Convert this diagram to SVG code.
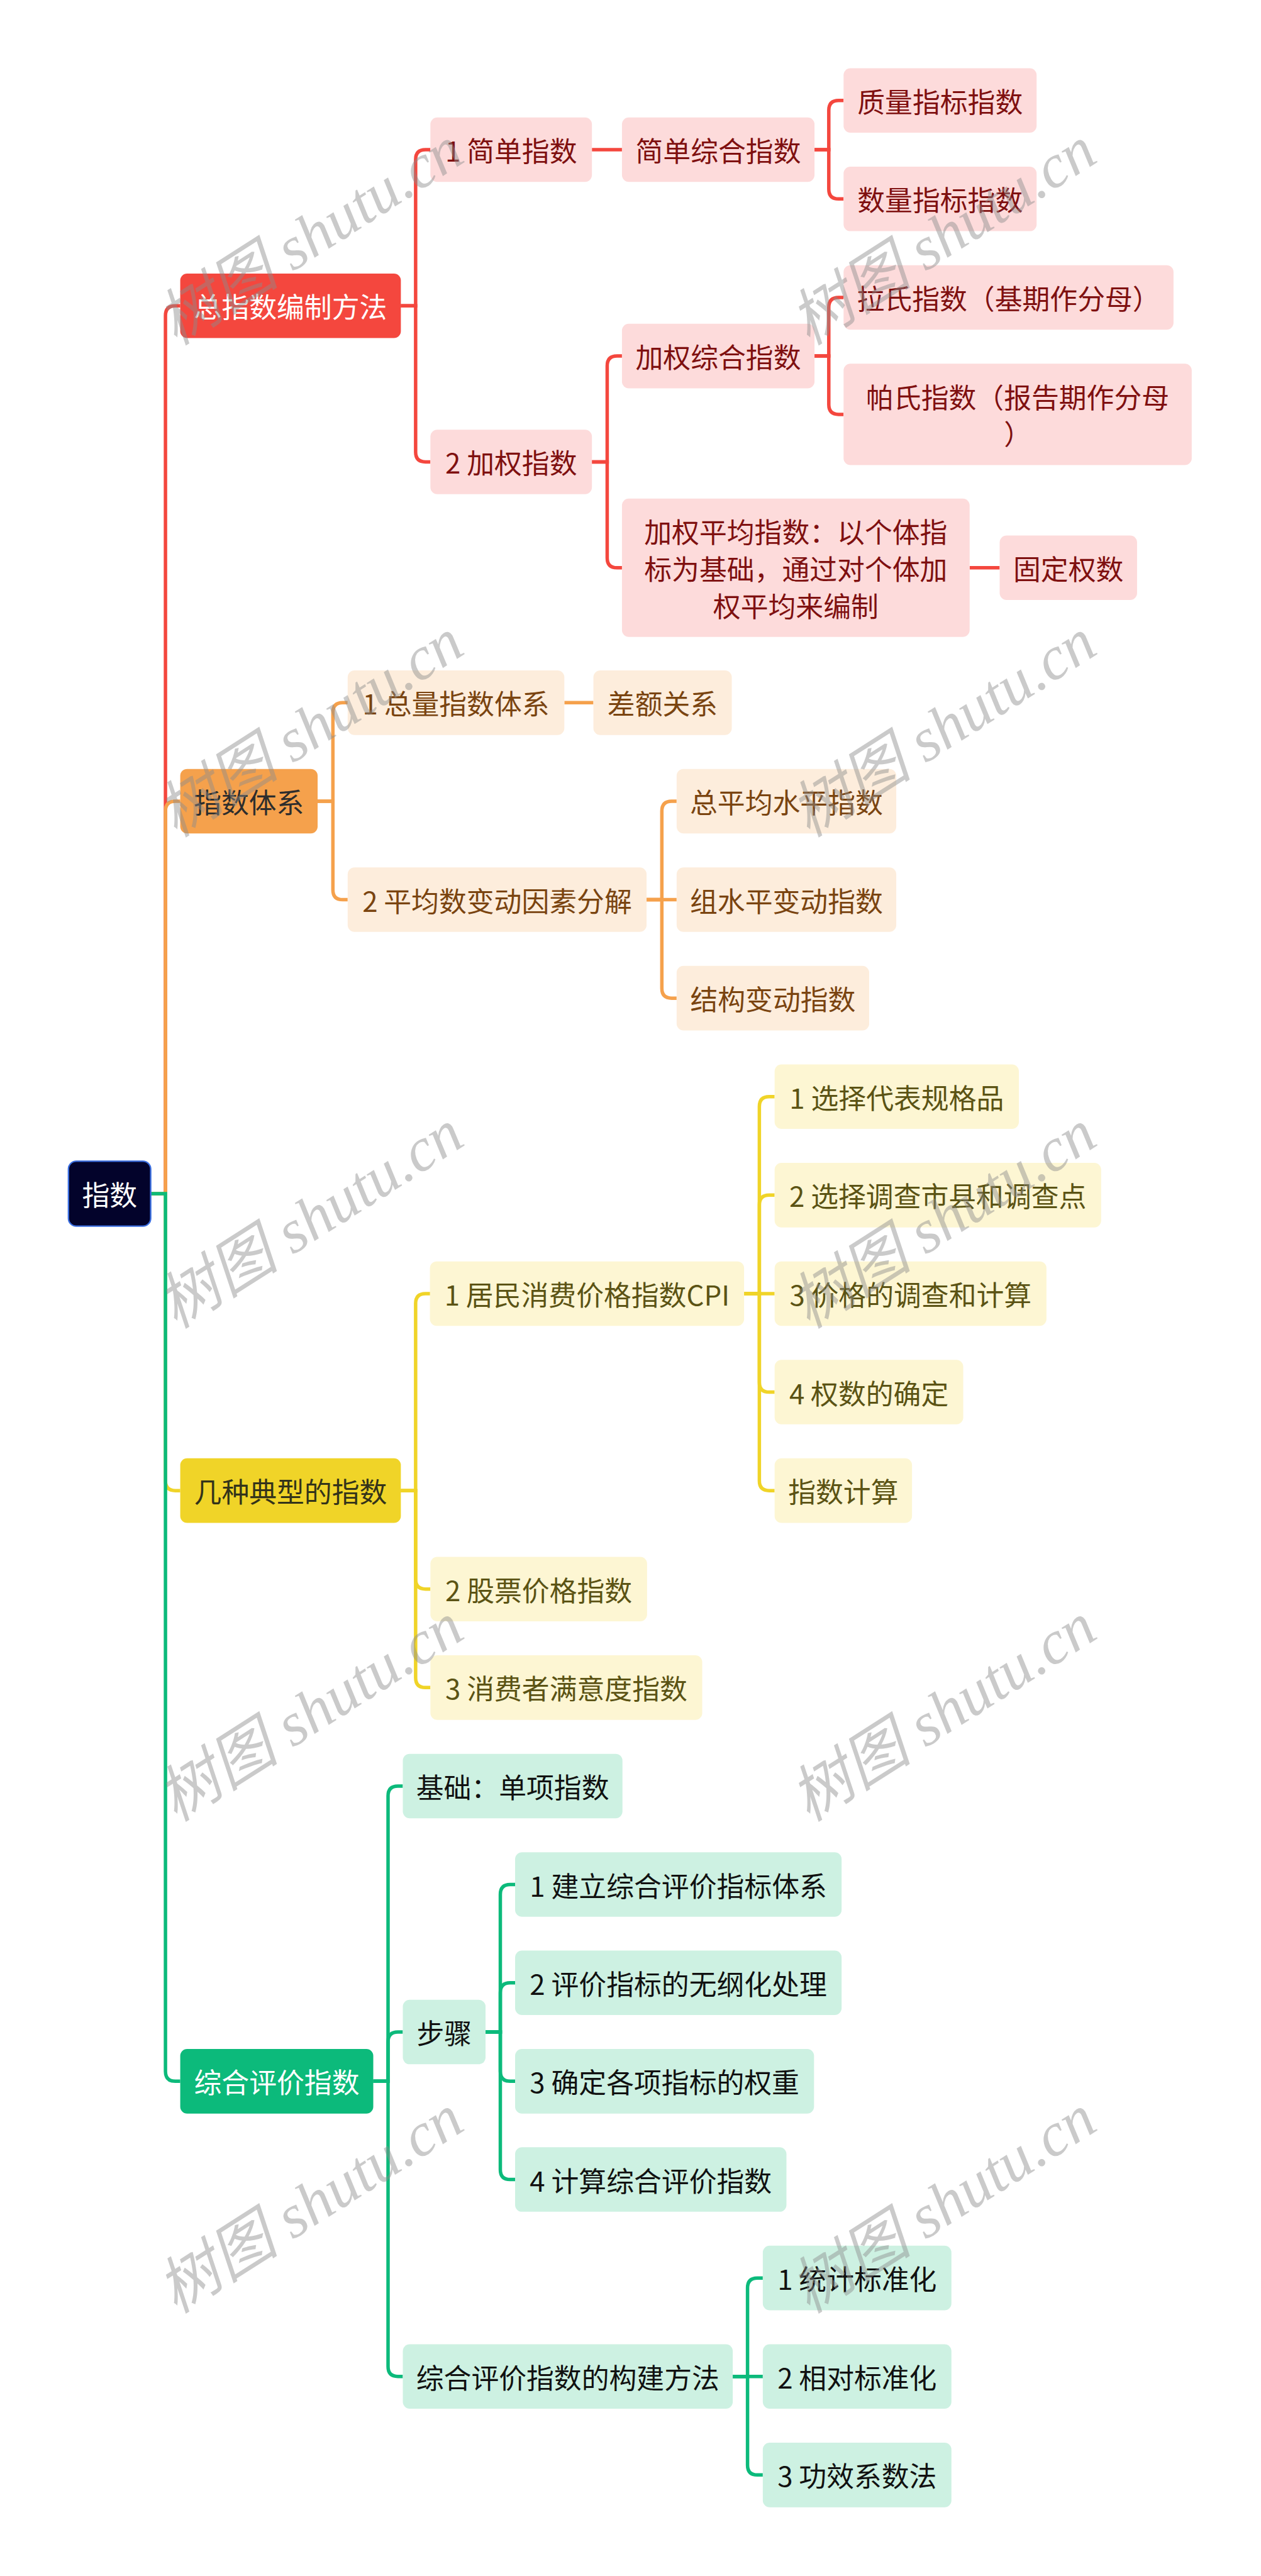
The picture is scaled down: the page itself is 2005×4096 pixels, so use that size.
<svg xmlns="http://www.w3.org/2000/svg" width="2005" height="4096" viewBox="0 0 2005 4096">
<style>
text{font-family:"Noto Sans CJK SC","Noto Sans",sans-serif;font-size:56px;text-anchor:middle;dominant-baseline:central}
.conn path{fill:none;stroke-width:7}
.cr path{stroke:#f4473e}.co path{stroke:#f5a14c}.cy path{stroke:#f0d428}.cg path{stroke:#0cba7b}
.root rect{fill:#03032b;stroke:#3b6ee0;stroke-width:3}
.root text{fill:#ffffff}
.r1 rect{fill:#f4473e}.r1 text{fill:#ffffff}
.r2 rect{fill:#fddbdb}.r2 text{fill:#7f1010}
.o1 rect{fill:#f5a14c}.o1 text{fill:#2d2d2d}
.o2 rect{fill:#fdeddc}.o2 text{fill:#7a4410}
.y1 rect{fill:#f0d428}.y1 text{fill:#33331a}
.y2 rect{fill:#fdf6d3}.y2 text{fill:#5b5314}
.g1 rect{fill:#0cba7b}.g1 text{fill:#ffffff}
.g2 rect{fill:#cdf1e2}.g2 text{fill:#111111}
.wm text{font-family:"Liberation Serif","Noto Sans CJK SC",serif;font-style:italic;font-size:125px;text-anchor:start;dominant-baseline:alphabetic;fill:#8c8c8c;opacity:0.45}
</style>
<rect x="0" y="0" width="2005" height="4096" fill="#ffffff"/>
<g transform="scale(0.783)">
<g id="connectors" class="conn">
<g class="cr">
<path d="M306 2424 H336 V641 Q336 621 356 621 H366"/>
<path d="M814 621 H844 V324 Q844 304 864 304 H874"/>
<path d="M814 621 H844 V918 Q844 938 864 938 H874"/>
<path d="M1202 304 H1263"/>
<path d="M1654 304 H1683 V224 Q1683 204 1703 204 H1713"/>
<path d="M1654 304 H1683 V384 Q1683 404 1703 404 H1713"/>
<path d="M1202 938 H1233 V743 Q1233 723 1253 723 H1263"/>
<path d="M1202 938 H1233 V1133 Q1233 1153 1253 1153 H1263"/>
<path d="M1654 723 H1683 V624 Q1683 604 1703 604 H1713"/>
<path d="M1654 723 H1683 V821.5 Q1683 841.5 1703 841.5 H1713"/>
<path d="M1969 1153 H2030"/>
</g>
<g class="co">
<path d="M306 2424 H336 V1647 Q336 1627 356 1627 H366"/>
<path d="M645 1627 H676 V1447 Q676 1427 696 1427 H706"/>
<path d="M645 1627 H676 V1807 Q676 1827 696 1827 H706"/>
<path d="M1146 1427 H1205"/>
<path d="M1313 1827 H1344 V1647 Q1344 1627 1364 1627 H1374"/>
<path d="M1313 1827 H1374"/>
<path d="M1313 1827 H1344 V2007 Q1344 2027 1364 2027 H1374"/>
</g>
<g class="cy">
<path d="M306 2424 H336 V3007 Q336 3027 356 3027 H366"/>
<path d="M814 3027 H844 V2647 Q844 2627 864 2627 H874"/>
<path d="M814 3027 H844 V3207 Q844 3227 864 3227 H874"/>
<path d="M814 3027 H844 V3407 Q844 3427 864 3427 H874"/>
<path d="M1511 2627 H1542 V2247 Q1542 2227 1562 2227 H1573"/>
<path d="M1511 2627 H1542 V2447 Q1542 2427 1562 2427 H1573"/>
<path d="M1511 2627 H1573"/>
<path d="M1511 2627 H1542 V2807 Q1542 2827 1562 2827 H1573"/>
<path d="M1511 2627 H1542 V3007 Q1542 3027 1562 3027 H1573"/>
</g>
<g class="cg">
<path d="M306 2424 H336 V4206.5 Q336 4226.5 356 4226.5 H366"/>
<path d="M758 4226.5 H788 V3647 Q788 3627 808 3627 H818"/>
<path d="M758 4226.5 H788 V4146.5 Q788 4126.5 808 4126.5 H818"/>
<path d="M758 4226.5 H788 V4806 Q788 4826 808 4826 H818"/>
<path d="M986 4126.5 H1016 V3847 Q1016 3827 1036 3827 H1046"/>
<path d="M986 4126.5 H1016 V4046.5 Q1016 4026.5 1036 4026.5 H1046"/>
<path d="M986 4126.5 H1016 V4206.5 Q1016 4226.5 1036 4226.5 H1046"/>
<path d="M986 4126.5 H1016 V4406 Q1016 4426 1036 4426 H1046"/>
<path d="M1488 4826 H1518 V4646 Q1518 4626 1538 4626 H1549"/>
<path d="M1488 4826 H1549"/>
<path d="M1488 4826 H1518 V5006 Q1518 5026 1538 5026 H1549"/>
</g>
</g>

<g id="n-root" class="root"><rect x="139" y="2358" width="167" height="132" rx="16"/><text x="222.5" y="2424">指数</text></g>

<g id="n-zzs" class="r1"><rect x="366" y="555.5" width="448" height="131" rx="14"/><text x="590" y="621">总指数编制方法</text></g>
<g id="n-jdzs" class="r2"><rect x="874" y="238.5" width="328" height="131" rx="14"/><text x="1038" y="304">1 简单指数</text></g>
<g id="n-jqzs" class="r2"><rect x="874" y="872.5" width="328" height="131" rx="14"/><text x="1038" y="938">2 加权指数</text></g>
<g id="n-jdzh" class="r2"><rect x="1263" y="238.5" width="391" height="131" rx="14"/><text x="1458.5" y="304">简单综合指数</text></g>
<g id="n-zlzb" class="r2"><rect x="1713" y="138.5" width="392" height="131" rx="14"/><text x="1909" y="204">质量指标指数</text></g>
<g id="n-slzb" class="r2"><rect x="1713" y="338.5" width="392" height="131" rx="14"/><text x="1909" y="404">数量指标指数</text></g>
<g id="n-jqzh" class="r2"><rect x="1263" y="657.5" width="391" height="131" rx="14"/><text x="1458.5" y="723">加权综合指数</text></g>
<g id="n-ls" class="r2"><rect x="1713" y="538.5" width="670" height="131" rx="14"/><text x="2048" y="604">拉氏指数（基期作分母）</text></g>
<g id="n-ps" class="r2"><rect x="1713" y="738.5" width="707" height="206" rx="14"/><text x="2066.5" y="804">帕氏指数（报告期作分母</text><text x="2066.5" y="879">）</text></g>
<g id="n-jqpj" class="r2"><rect x="1263" y="1012.5" width="706" height="281" rx="14"/><text x="1616" y="1078.5">加权平均指数：以个体指</text><text x="1616" y="1153.5">标为基础，通过对个体加</text><text x="1616" y="1228.5">权平均来编制</text></g>
<g id="n-gdqs" class="r2"><rect x="2030" y="1087.5" width="279" height="131" rx="14"/><text x="2169.5" y="1153">固定权数</text></g>

<g id="n-zstx" class="o1"><rect x="366" y="1561.5" width="279" height="131" rx="14"/><text x="505.5" y="1627">指数体系</text></g>
<g id="n-zlzstx" class="o2"><rect x="706" y="1361.5" width="440" height="131" rx="14"/><text x="926" y="1427">1 总量指数体系</text></g>
<g id="n-cegx" class="o2"><rect x="1205" y="1361.5" width="281" height="131" rx="14"/><text x="1345.5" y="1427">差额关系</text></g>
<g id="n-pjs" class="o2"><rect x="706" y="1761.5" width="607" height="131" rx="14"/><text x="1009.5" y="1827">2 平均数变动因素分解</text></g>
<g id="n-zpj" class="o2"><rect x="1374" y="1561.5" width="446" height="131" rx="14"/><text x="1597" y="1627">总平均水平指数</text></g>
<g id="n-zsp" class="o2"><rect x="1374" y="1761.5" width="446" height="131" rx="14"/><text x="1597" y="1827">组水平变动指数</text></g>
<g id="n-jg" class="o2"><rect x="1374" y="1961.5" width="391" height="131" rx="14"/><text x="1569.5" y="2027">结构变动指数</text></g>

<g id="n-jzdx" class="y1"><rect x="366" y="2961.5" width="448" height="131" rx="14"/><text x="590" y="3027">几种典型的指数</text></g>
<g id="n-cpi" class="y2"><rect x="873" y="2561.5" width="638" height="131" rx="14"/><text x="1192" y="2627">1 居民消费价格指数CPI</text></g>
<g id="n-gp" class="y2"><rect x="874" y="3161.5" width="440" height="131" rx="14"/><text x="1094" y="3227">2 股票价格指数</text></g>
<g id="n-xfz" class="y2"><rect x="874" y="3361.5" width="552" height="131" rx="14"/><text x="1150" y="3427">3 消费者满意度指数</text></g>
<g id="n-xz1" class="y2"><rect x="1573" y="2161.5" width="496" height="131" rx="14"/><text x="1821" y="2227">1 选择代表规格品</text></g>
<g id="n-xz2" class="y2"><rect x="1573" y="2361.5" width="663" height="131" rx="14"/><text x="1904.5" y="2427">2 选择调查市县和调查点</text></g>
<g id="n-jgdc" class="y2"><rect x="1573" y="2561.5" width="552" height="131" rx="14"/><text x="1849" y="2627">3 价格的调查和计算</text></g>
<g id="n-qsqd" class="y2"><rect x="1573" y="2761.5" width="383" height="131" rx="14"/><text x="1764.5" y="2827">4 权数的确定</text></g>
<g id="n-zsjs" class="y2"><rect x="1573" y="2961.5" width="279" height="131" rx="14"/><text x="1712.5" y="3027">指数计算</text></g>

<g id="n-zhpj" class="g1"><rect x="366" y="4161" width="392" height="131" rx="14"/><text x="562" y="4226.5">综合评价指数</text></g>
<g id="n-jc" class="g2"><rect x="818" y="3561.5" width="446" height="131" rx="14"/><text x="1041" y="3627">基础：单项指数</text></g>
<g id="n-bz" class="g2"><rect x="818" y="4061" width="168" height="131" rx="14"/><text x="902" y="4126.5">步骤</text></g>
<g id="n-gjff" class="g2"><rect x="818" y="4760.5" width="670" height="131" rx="14"/><text x="1153" y="4826">综合评价指数的构建方法</text></g>
<g id="n-bz1" class="g2"><rect x="1046" y="3761.5" width="663" height="131" rx="14"/><text x="1377.5" y="3827">1 建立综合评价指标体系</text></g>
<g id="n-bz2" class="g2"><rect x="1046" y="3961" width="663" height="131" rx="14"/><text x="1377.5" y="4026.5">2 评价指标的无纲化处理</text></g>
<g id="n-bz3" class="g2"><rect x="1046" y="4161" width="607" height="131" rx="14"/><text x="1349.5" y="4226.5">3 确定各项指标的权重</text></g>
<g id="n-bz4" class="g2"><rect x="1046" y="4360.5" width="551" height="131" rx="14"/><text x="1321.5" y="4426">4 计算综合评价指数</text></g>
<g id="n-ff1" class="g2"><rect x="1549" y="4560.5" width="383" height="131" rx="14"/><text x="1740.5" y="4626">1 统计标准化</text></g>
<g id="n-ff2" class="g2"><rect x="1549" y="4760.5" width="383" height="131" rx="14"/><text x="1740.5" y="4826">2 相对标准化</text></g>
<g id="n-ff3" class="g2"><rect x="1549" y="4960.5" width="383" height="131" rx="14"/><text x="1740.5" y="5026">3 功效系数法</text></g>

<g id="watermarks" class="wm">
<text transform="translate(357 703) rotate(-32.5)">树图 shutu.cn</text>
<text transform="translate(1642 703) rotate(-32.5)">树图 shutu.cn</text>
<text transform="translate(357 1702) rotate(-32.5)">树图 shutu.cn</text>
<text transform="translate(1642 1702) rotate(-32.5)">树图 shutu.cn</text>
<text transform="translate(357 2700) rotate(-32.5)">树图 shutu.cn</text>
<text transform="translate(1642 2700) rotate(-32.5)">树图 shutu.cn</text>
<text transform="translate(357 3701) rotate(-32.5)">树图 shutu.cn</text>
<text transform="translate(1642 3701) rotate(-32.5)">树图 shutu.cn</text>
<text transform="translate(357 4700) rotate(-32.5)">树图 shutu.cn</text>
<text transform="translate(1642 4700) rotate(-32.5)">树图 shutu.cn</text>
</g>
</g>
</svg>
